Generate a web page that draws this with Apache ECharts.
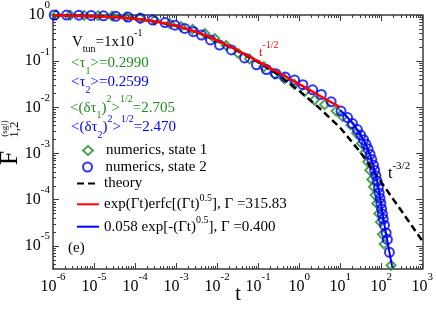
<!DOCTYPE html>
<html><head><meta charset="utf-8">
<script src="https://cdn.jsdelivr.net/npm/echarts@6/dist/echarts.min.js"></script>
<style>html,body{margin:0;padding:0;background:#fff}#c{width:436px;height:312px}</style>
</head><body><div id="c"></div>
<script>
// All values are decimal exponents: log10(t), log10(F)
const xTickExps = [-6, -5, -4, -3, -2, -1, 0, 1, 2, 3];
const yTickExps = [-5, -4, -3, -2, -1, 0];

const state1LogT = [-5.92,-5.58,-5.24,-4.90,-4.56,-4.22,-3.88,-3.52,-3.15,-2.88,-2.60,-2.30,-2.06,-1.78,-1.49,-1.21,-0.86,-0.60,-0.36,-0.12,0.13,0.37,0.62,0.90,1.06,1.26,1.40,1.52,1.60,1.67,1.72,1.77,1.81,1.85,1.89,1.94,1.98,2.03,2.07,2.24];
const state1LogF = [0.0,-0.003,-0.008,-0.014,-0.024,-0.040,-0.065,-0.11,-0.19,-0.25,-0.31,-0.40,-0.51,-0.66,-0.83,-0.95,-1.12,-1.28,-1.38,-1.50,-1.66,-1.84,-1.94,-2.08,-2.20,-2.38,-2.56,-2.78,-2.98,-3.18,-3.36,-3.56,-3.72,-3.90,-4.08,-4.30,-4.48,-4.75,-4.96,-5.42];

const state2LogT = [-5.97,-5.67,-5.37,-5.07,-4.77,-4.47,-4.17,-3.87,-3.57,-3.27,-3.03,-2.79,-2.58,-2.38,-2.16,-1.94,-1.65,-1.33,-1.04,-0.80,-0.57,-0.34,-0.11,0.09,0.33,0.54,0.78,1.02,1.18,1.30,1.42,1.50,1.57,1.63,1.68,1.73,1.77,1.81,1.84,1.87,1.90,1.93,1.95,1.97,1.99,2.01,2.03,2.05,2.08,2.12,2.15,2.20];
const state2LogF = [0.0,-0.002,-0.005,-0.010,-0.017,-0.028,-0.045,-0.07,-0.11,-0.165,-0.22,-0.29,-0.36,-0.435,-0.54,-0.65,-0.756,-0.93,-1.077,-1.18,-1.27,-1.34,-1.41,-1.51,-1.62,-1.72,-1.88,-2.08,-2.22,-2.35,-2.48,-2.60,-2.70,-2.80,-2.90,-3.02,-3.13,-3.25,-3.36,-3.48,-3.60,-3.74,-3.86,-3.97,-4.08,-4.20,-4.31,-4.42,-4.55,-4.72,-4.86,-5.14];

const theoryLogT = [-6,-5.5,-5,-4.5,-4,-3.5,-3,-2.5,-2,-1.5,-1,-0.5,0,0.5,1,1.5,2,2.5,3];
const theoryLogF = [-0.009,-0.016,-0.027,-0.047,-0.083,-0.14,-0.233,-0.37,-0.56,-0.78,-1.02,-1.30,-1.64,-2.02,-2.44,-2.98,-3.62,-4.25,-4.89];

const redLogT = [-6,-5.75,-5.5,-5.25,-5,-4.75,-4.5,-4.25,-4,-3.75,-3.5,-3.25,-3,-2.75,-2.5,-2.25,-2,-1.75,-1.5,-1.25,-1,-0.75,-0.5,-0.25,0,0.25,0.5,0.75,1];
const redLogF = [-0.009,-0.012,-0.015,-0.020,-0.027,-0.036,-0.048,-0.063,-0.083,-0.108,-0.141,-0.182,-0.233,-0.295,-0.369,-0.455,-0.551,-0.658,-0.768,-0.885,-1.005,-1.127,-1.251,-1.375,-1.498,-1.623,-1.749,-1.873,-1.998];

const blueLogT = [1.00,1.20,1.35,1.50,1.63,1.75,1.85,1.93,1.98,2.05,2.12,2.20,2.27];
const blueLogF = [-2.06,-2.24,-2.40,-2.60,-2.80,-3.08,-3.40,-3.72,-3.98,-4.40,-4.75,-5.14,-5.47];

const legendNames = ['numerics, state 1','numerics, state 2','theory','exp(Γt)erfc[(Γt)^0.5], Γ =315.83','0.058 exp[-(Γt)^0.5], Γ =0.400'];

const FONT = "'Liberation Serif','Times New Roman',serif";
const GREEN = '#1f8c1f', BLUE = '#0000ff', RED = '#ff0000';
const pairs = (a, b) => a.map((v, i) => [v, b[i]]);
function minorVals(lo, hi) {
  const out = [];
  for (let n = Math.floor(lo) - 1; n < hi; n++)
    for (let k = 2; k <= 9; k++) { const v = n + Math.log10(k); if (v > lo && v < hi) out.push(v); }
  return out;
}
const xMinor = minorVals(-6, 3), yMinor = minorVals(-5.5, 0);
const lineC = '#3a3a3a';
const tickRich = {
  b: {fontFamily: FONT, fontSize: 16, color: '#000', lineHeight: 30},
  s: {fontFamily: FONT, fontSize: 11, color: '#000', lineHeight: 12, verticalAlign: 'top'}
};
const tickFmt = v => '{b|10}{s|' + Math.round(v) + '}';

function mkX(pos, major, labels) {
  return {
    type: 'value', position: pos, min: -6, max: 3, interval: major ? 1 : undefined,
    axisLine: {show: major, onZero: false, lineStyle: {color: lineC, width: 1.5}},
    axisTick: major ? {show: true, inside: true, length: 6, lineStyle: {color: lineC, width: 1}}
                    : {show: true, inside: true, length: 3, customValues: xMinor, lineStyle: {color: lineC, width: 1}},
    axisLabel: labels ? {show: true, formatter: tickFmt, rich: tickRich, margin: 3} : {show: false},
    splitLine: {show: false}
  };
}
function mkY(pos, major, labels) {
  return {
    type: 'value', position: pos, min: -5.5, max: 0,
    axisLine: {show: major, onZero: false, lineStyle: {color: lineC, width: 1.5}},
    axisTick: major ? {show: true, inside: true, length: 6, customValues: yTickExps, lineStyle: {color: lineC, width: 1}}
                    : {show: true, inside: true, length: 3, customValues: yMinor, lineStyle: {color: lineC, width: 1}},
    axisLabel: labels ? {show: true, customValues: yTickExps, formatter: tickFmt, rich: tickRich, margin: 3} : {show: false},
    splitLine: {show: false}
  };
}

const legendRich = {
  n: {fontFamily: FONT, fontSize: 15, color: '#000', lineHeight: 22},
  m: {fontFamily: FONT, fontSize: 15, color: '#000', lineHeight: 22, padding: [0, 0, 0, 8]},
  p: {fontFamily: FONT, fontSize: 10, color: '#000', lineHeight: 10, verticalAlign: 'top'}
};
function legendFmt(name) {
  const parts = name.split('^0.5');
  if (name.indexOf('numerics') === 0) return '{m|' + name + '}';
  if (parts.length === 1) return '{n|' + name + '}';
  return '{n|' + parts[0] + '}{p|0.5}{n|' + parts[1] + '}';
}
const legendCenters = [150.5, 167, 183.5, 204.3, 226.7];

function annRich(color, big, small) {
  return {
    n: {fontFamily: FONT, fontSize: big, fill: color, lineHeight: 26},
    sub: {fontFamily: FONT, fontSize: small, fill: color, lineHeight: 16, verticalAlign: 'bottom'},
    sup: {fontFamily: FONT, fontSize: small, fill: color, lineHeight: 10, verticalAlign: 'top'}
  };
}
function ann(x, y, text, color, big, small) {
  return {type: 'text', x: x, y: y, z: 50, style: {text: text, rich: annRich(color, big || 15, small || 10), fill: color, verticalAlign: 'middle', align: 'left'}};
}

const chart = echarts.init(document.getElementById('c'), null, {renderer: 'canvas'});
chart.setOption({
  animation: false,
  backgroundColor: '#fff',
  grid: {left: 53, right: 13, top: 11, bottom: 43, containLabel: false},
  xAxis: [mkX('bottom', true, true), mkX('top', true, false), mkX('bottom', false, false), mkX('top', false, false)],
  yAxis: [mkY('left', true, true), mkY('right', true, false), mkY('left', false, false), mkY('right', false, false)],
  legend: legendNames.map((nm, i) => {
    const isScatter = i < 2;
    return {
      data: [nm], left: isScatter ? 82 : 76, top: legendCenters[i] - 11, padding: 0,
      itemWidth: isScatter ? 10 : 22, itemHeight: 9, itemGap: 0, symbolKeepAspect: true,
      itemStyle: isScatter ? {} : {opacity: 0},
      selectedMode: false, formatter: legendFmt,
      textStyle: {fontFamily: FONT, fontSize: 15, color: '#000', lineHeight: 22, rich: legendRich}
    };
  }),
  series: [
    {name: legendNames[0], type: 'scatter', data: pairs(state1LogT, state1LogF), symbol: 'diamond', symbolSize: 9, symbolKeepAspect: true, z: 2,
     itemStyle: {color: 'rgba(0,0,0,0)', borderColor: GREEN, borderWidth: 2}},
    {name: legendNames[1], type: 'scatter', data: pairs(state2LogT, state2LogF), symbol: 'circle', symbolSize: 9, symbolKeepAspect: true, z: 3,
     itemStyle: {color: 'rgba(0,0,0,0)', borderColor: BLUE, borderWidth: 2}},
    {name: legendNames[2], type: 'line', data: pairs(theoryLogT, theoryLogF), symbol: 'none', showSymbol: false, z: 4,
     lineStyle: {color: '#000', width: 2.5, type: [7, 4]}, itemStyle: {color: '#000'}},
    {name: legendNames[3], type: 'line', data: pairs(redLogT, redLogF), symbol: 'none', showSymbol: false, z: 5,
     lineStyle: {color: RED, width: 2.5}, itemStyle: {color: RED}},
    {name: legendNames[4], type: 'line', data: pairs(blueLogT, blueLogF), symbol: 'none', showSymbol: false, z: 6,
     lineStyle: {color: BLUE, width: 2}, itemStyle: {color: BLUE}}
  ],
  graphic: [
    ann(72, 41.7, '{n|V}{sub|tun}{n|=1x10}{sup|-1}', '#000'),
    ann(71, 63.3, '{n|<τ}{sub|1}{n|>=0.2990}', GREEN),
    ann(71, 82, '{n|<τ}{sub|2}{n|>=0.2599}', BLUE),
    ann(70, 107.7, '{n|<(δτ}{sub|1}{n|)}{sup|2}{n|>}{sup|1/2}{n|=2.705}', GREEN),
    ann(71, 127, '{n|<(δτ}{sub|2}{n|)}{sup|2}{n|>}{sup|1/2}{n|=2.470}', BLUE),
    ann(68, 248, '{n|(e)}', '#000'),
    ann(259, 53, '{n|t}{sup|-1/2}', RED, 12, 10),
    ann(388, 174, '{n|t}{sup|-3/2}', '#000', 16, 11),
    {type: 'text', x: 238, y: 295, style: {text: 't', font: '20px ' + FONT, fill: '#000', align: 'center', verticalAlign: 'middle'}},
    {type: 'text', x: 10, y: 158, rotation: Math.PI / 2, style: {text: 'F', font: '26px ' + FONT, fill: '#000', align: 'center', verticalAlign: 'middle'}},
    {type: 'text', x: 14.5, y: 129.5, rotation: Math.PI / 2, style: {text: '1,2', font: '13px ' + FONT, fill: '#000', align: 'center', verticalAlign: 'middle'}},
    {type: 'text', x: 5, y: 128.5, rotation: Math.PI / 2, style: {text: '(sgl)', font: '9px ' + FONT, fill: '#000', align: 'center', verticalAlign: 'middle'}}
  ]
});
</script></body></html>
